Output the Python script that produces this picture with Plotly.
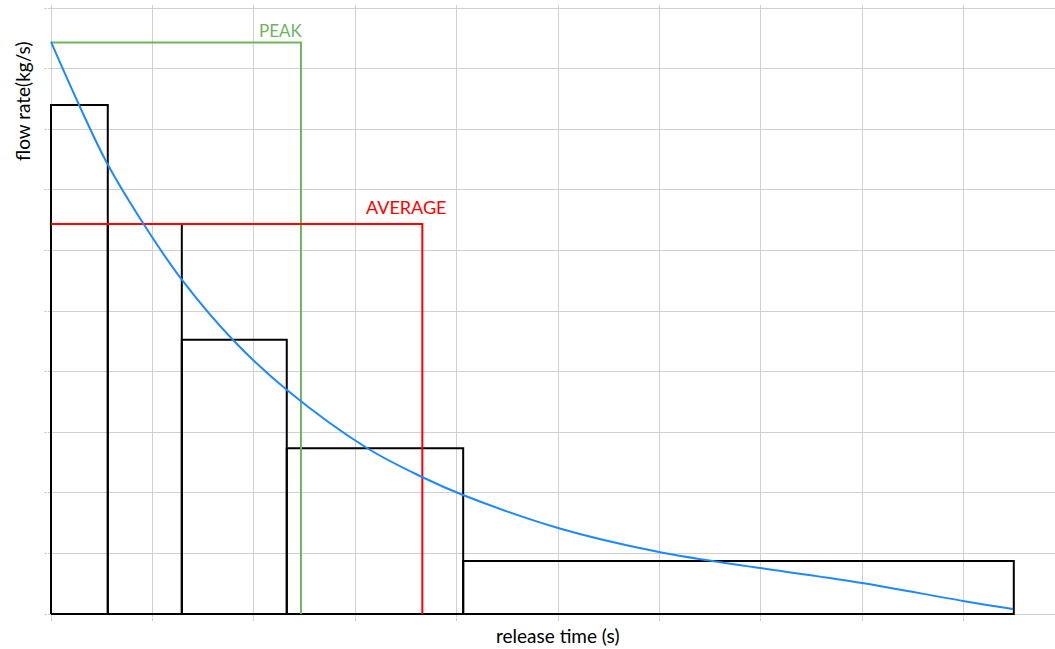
import plotly.graph_objects as go

# Release-rate curve
time_s = [0.0, 0.286, 0.552, 0.907, 1.292, 1.795, 2.327, 3.116, 3.659, 4.063,
          5.000, 5.996, 6.992, 7.998, 8.994, 9.487]
flow_rate = [9.44, 8.366, 7.442, 6.452, 5.512, 4.521, 3.696, 2.739, 2.261, 1.964,
             1.419, 1.023, 0.759, 0.512, 0.215, 0.083]

# Stepped approximation
step_edges = [0.0, 0.56, 1.29, 2.325, 4.065, 9.495]
step_heights = [8.40, 6.436, 4.526, 2.734, 0.875]

# Peak and average
peak_time = 2.465
peak_rate = 9.43
avg_time = 3.662
avg_rate = 6.436

FONT = "Lato"
fig = go.Figure()

for i, h in enumerate(step_heights):
    l, r = step_edges[i], step_edges[i + 1]
    fig.add_trace(go.Scatter(x=[l, l, r, r, l], y=[0, h, h, 0, 0], mode="lines",
                             line=dict(color="#000000", width=2),
                             hoverinfo="skip", showlegend=False))

fig.add_trace(go.Scatter(x=[0, peak_time, peak_time], y=[peak_rate, peak_rate, 0],
                         mode="lines", line=dict(color="#70b35f", width=2),
                         showlegend=False))
fig.add_trace(go.Scatter(x=[0, avg_time, avg_time], y=[avg_rate, avg_rate, 0],
                         mode="lines", line=dict(color="#ff0000", width=2),
                         showlegend=False))
fig.add_trace(go.Scatter(x=time_s, y=flow_rate, mode="lines",
                         line=dict(color="#1e88ff", width=2, shape="spline", smoothing=1.0),
                         showlegend=False))

fig.add_annotation(x=peak_time, y=peak_rate, xref="x", yref="y", text="PEAK",
                   showarrow=False, xanchor="right", yanchor="bottom", yshift=0, xshift=4,
                   font=dict(family=FONT, size=17, color="#70b35f"))
fig.add_annotation(x=avg_time, y=avg_rate, xref="x", yref="y", text="AVERAGE",
                   showarrow=False, xanchor="center", yanchor="bottom", yshift=4, xshift=-16,
                   font=dict(family=FONT, size=18, color="#ff0000"))

# plot area padded a few pixels so edge gridlines show
PX_X = 101.4
PX_Y = 60.6
PAD = 3
L, T, B = 51 - PAD, 8 - PAD, 649 - 614 - PAD
PW, PH = 1055 - L, 649 - T - B

fig.add_annotation(x=(22 - L) / PW, y=(649 - B - 102) / PH, xref="paper", yref="paper",
                   text="flow rate(kg/s)", textangle=-90, showarrow=False,
                   xanchor="center", yanchor="middle",
                   font=dict(family=FONT, size=19, color="#000000"))
fig.add_annotation(x=(557 - L) / PW, y=-(636 - (649 - B)) / PH, xref="paper", yref="paper",
                   text="release time (s)", showarrow=False,
                   xanchor="center", yanchor="middle",
                   font=dict(family=FONT, size=19, color="#000000"))

grid = "#d0d0d0"
x0 = -PAD / PX_X
fig.update_xaxes(range=[x0, x0 + PW / PX_X], dtick=1, tick0=0, showgrid=True, gridcolor=grid,
                 gridwidth=1, zeroline=False, showticklabels=False, ticks="outside",
                 ticklen=3, tickcolor=grid, showline=False, fixedrange=True)
y0 = -PAD / PX_Y
fig.update_yaxes(range=[y0, y0 + PH / PX_Y], dtick=1, tick0=0, showgrid=True, gridcolor=grid,
                 gridwidth=1, zeroline=False, showticklabels=False, ticks="outside",
                 ticklen=3, tickcolor=grid, showline=False, fixedrange=True)

fig.update_layout(width=1055, height=649, margin=dict(l=L, r=0, t=T, b=B),
                  plot_bgcolor="white", paper_bgcolor="white",
                  font=dict(family=FONT))

fig.write_html("out.html", config={"displayModeBar": False},
               post_script="document.body.style.margin='0';document.body.style.overflow='hidden';")
